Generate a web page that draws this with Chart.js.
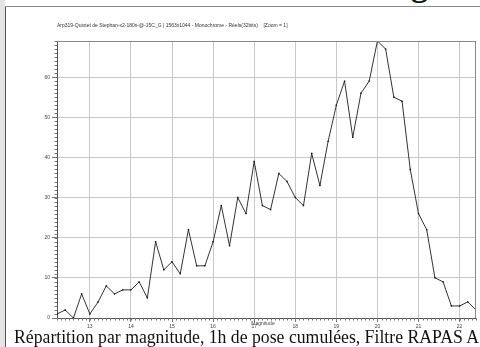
<!DOCTYPE html>
<html>
<head>
<meta charset="utf-8">
<script src="https://cdn.jsdelivr.net/npm/chart.js@4.4.1/dist/chart.umd.min.js"></script>
<style>
    html, body { margin: 0; padding: 0; background: #fff; }
    #page { position: relative; width: 480px; height: 347px; overflow: hidden; background: #fff; }
    #strip { position: absolute; left: 0; top: 0; width: 5px; height: 347px; background: #e4e4e4; }
    #vline { position: absolute; left: 5px; top: 6px; width: 1px; height: 341px; background: #555; }
    #hline { position: absolute; left: 5px; top: 6px; width: 475px; height: 1px; background: #8a8a8a; }
    #headClip { position: absolute; left: 400px; top: 0; width: 40px; height: 5px; overflow: hidden; }
    #headClip span { position: absolute; left: 11px; bottom: 3px; font: bold 34px "Liberation Serif", serif; line-height: 34px; color: #111; }
    #chartBox { position: absolute; left: 0; top: 0; width: 480px; height: 347px; }
    #xTitle { position: absolute; left: 263px; top: 320px; transform: translateX(-50%); font: 5px "Liberation Sans", Arial, sans-serif; color: #444; white-space: nowrap; }
    #caption { position: absolute; left: 14px; top: 326px; font: 19px "Liberation Serif", serif; color: #111; white-space: nowrap; line-height: 21px; transform: scaleX(0.932); transform-origin: left top; }
</style>
</head>
<body>
<div id="page">
    <div id="strip"></div>
    <div id="vline"></div>
    <div id="hline"></div>
    <div id="headClip"><span>g</span></div>
    <div id="chartBox"><canvas id="magChart" width="480" height="347"></canvas></div>
    <div id="xTitle">Magnitude</div>
    <div id="caption">Répartition par magnitude, 1h de pose cumulées, Filtre RAPAS A</div>
</div>
<script>
// magnitude bins (0.2 mag) and star counts
const magnitudes = [12.2, 12.4, 12.6, 12.8, 13.0, 13.2, 13.4, 13.6, 13.8, 14.0,
                    14.2, 14.4, 14.6, 14.8, 15.0, 15.2, 15.4, 15.6, 15.8, 16.0,
                    16.2, 16.4, 16.6, 16.8, 17.0, 17.2, 17.4, 17.6, 17.8, 18.0,
                    18.2, 18.4, 18.6, 18.8, 19.0, 19.2, 19.4, 19.6, 19.8, 20.0,
                    20.2, 20.4, 20.6, 20.8, 21.0, 21.2, 21.4, 21.6, 21.8, 22.0,
                    22.2, 22.4];
const counts = [1, 2, 0, 6, 1, 4, 8, 6, 7, 7,
                9, 5, 19, 12, 14, 11, 22, 13, 13, 19,
                28, 18, 30, 26, 39, 28, 27, 36, 34, 30,
                28, 41, 33, 44, 53, 59, 45, 56, 59, 69,
                67, 55, 54, 37, 26, 22, 10, 9, 3, 3,
                4, 2];
const xTickValues = [13, 14, 15, 16, 17, 18, 19, 20, 21, 22];
const yTickValues = [0, 10, 20, 30, 40, 50, 60];
const chartTitle = 'Arp319-Quintet de Stephan-x2-180s-@-15C_G | 1563x1044 - Monochrome - Réels(32bits)    [Zoom = 1]';

const X_MIN = 12.2, X_MAX = 22.4, Y_MIN = 0, Y_MAX = 69;

// minor tick marks + top/right frame of the plot
const minorTicks = {
    id: 'minorTicks',
    afterDraw(chart) {
        const { ctx, chartArea } = chart;
        const xs = chart.scales.x, ys = chart.scales.y;
        ctx.save();
        ctx.strokeStyle = '#777';
        ctx.lineWidth = 1;
        ctx.beginPath();
        for (let v = Y_MIN; v <= Y_MAX; v++) {
            const y = Math.round(ys.getPixelForValue(v)) + 0.5;
            ctx.moveTo(chartArea.left - 2.5, y);
            ctx.lineTo(chartArea.left, y);
        }
        for (let i = Math.round(X_MIN * 10); i <= Math.round(X_MAX * 10); i++) {
            const x = Math.round(xs.getPixelForValue(i / 10)) + 0.5;
            ctx.moveTo(x, chartArea.bottom);
            ctx.lineTo(x, chartArea.bottom + 2.5);
        }
        ctx.stroke();
        ctx.strokeStyle = '#888';
        ctx.beginPath();
        ctx.moveTo(chartArea.left, Math.round(chartArea.top) + 0.5);
        ctx.lineTo(chartArea.right, Math.round(chartArea.top) + 0.5);
        ctx.moveTo(Math.round(chartArea.right) - 0.5, chartArea.top);
        ctx.lineTo(Math.round(chartArea.right) - 0.5, chartArea.bottom);
        ctx.stroke();
        ctx.restore();
    }
};

Chart.defaults.font.family = '"Liberation Sans", Arial, sans-serif';
Chart.defaults.color = '#444';

new Chart(document.getElementById('magChart'), {
    type: 'line',
    data: {
        datasets: [{
            data: magnitudes.map((m, i) => ({ x: m, y: counts[i] })),
            borderColor: '#333',
            borderWidth: 1,
            pointStyle: 'rect',
            pointRadius: 1,
            pointBorderWidth: 0,
            pointBackgroundColor: '#111',
            tension: 0,
            fill: false
        }]
    },
    options: {
        responsive: false,
        animation: false,
        layout: { padding: { left: 0, right: 3, top: 0, bottom: 0 } },
        plugins: {
            legend: { display: false },
            tooltip: { enabled: false },
            title: {
                display: true,
                text: chartTitle,
                align: 'start',
                fullSize: false,
                color: '#333',
                font: { size: 5, weight: 'normal' },
                padding: { top: 23, bottom: 12 }
            }
        },
        scales: {
            x: {
                type: 'linear',
                min: X_MIN,
                max: X_MAX,
                afterFit: s => { s.height = 29; },
                afterBuildTicks: s => { s.ticks = xTickValues.map(v => ({ value: v })); },
                ticks: { font: { size: 5 }, padding: 2, maxRotation: 0, callback: v => v },
                grid: { color: '#c8c8c8', lineWidth: 1, tickLength: 4, tickColor: '#777' },
                border: { color: '#555', width: 1 }
            },
            y: {
                min: Y_MIN,
                max: Y_MAX,
                afterFit: s => { s.width = 57; },
                afterBuildTicks: s => { s.ticks = yTickValues.map(v => ({ value: v })); },
                ticks: { font: { size: 5 }, padding: 2, callback: v => v },
                grid: { color: '#c8c8c8', lineWidth: 1, tickLength: 5, tickColor: '#777' },
                border: { color: '#555', width: 1 }
            }
        }
    },
    plugins: [minorTicks]
});
</script>
</body>
</html>
